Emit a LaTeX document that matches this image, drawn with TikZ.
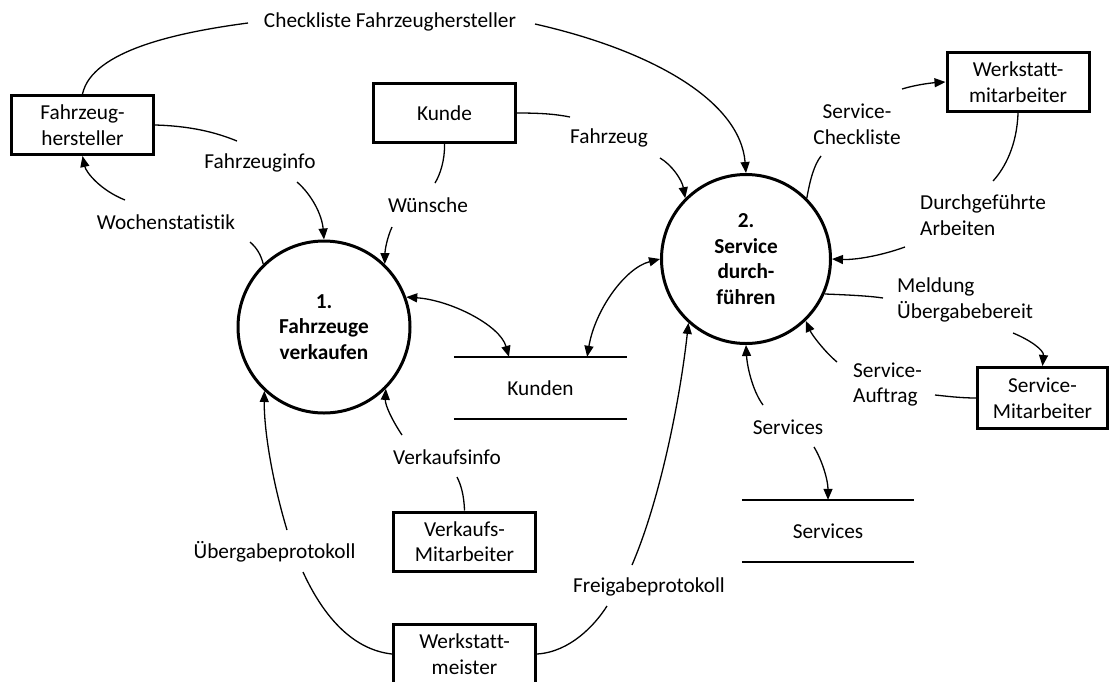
\documentclass[tikz,border=0pt]{standalone}
\usepackage{fontspec}
\setmainfont{Carlito}[Ligatures={NoCommon}]
\usetikzlibrary{arrows.meta,calc}
\begin{document}
\begin{tikzpicture}[x=1pt,y=-1pt,
  every node/.style={font=\fontsize{21.3}{25.6}\selectfont},
  ext/.style={draw, line width=3pt, minimum width=142pt, minimum height=59pt, align=center, inner sep=0pt},
  proc/.style={draw, circle, line width=3pt, align=center, inner sep=0pt, font=\fontsize{21.3}{25.6}\selectfont\bfseries},
  lbl/.style={inner sep=0pt, align=center},
  lbll/.style={inner sep=0pt, align=left},
  storeline/.style={line width=1.6pt},
  flow/.style={line width=1.3pt},
  arr/.style={flow, -{Triangle[length=11pt,width=9pt]}},
  darr/.style={flow, {Triangle[length=11pt,width=9pt]}-{Triangle[length=11pt,width=9pt]}},
]
\useasboundingbox (0,0) rectangle (1111,681);

% external entities
\node[ext] (fh) at (82.5,125) {Fahrzeug-\\hersteller};
\node[ext] (kunde) at (444.5,113) {Kunde};
\node[ext] (wm) at (1018,82) {Werkstatt-\\mitarbeiter};
\node[ext, minimum width=130pt, minimum height=61pt] (sm) at (1042.5,398) {Service-\\Mitarbeiter};
\node[ext] (vm) at (464.5,541.5) {Verkaufs-\\Mitarbeiter};
\node[ext] (wmeister) at (464.5,654) {Werkstatt-\\meister};

% processes
\node[proc, minimum size=172pt] (c1) at (324,327) {1.\\Fahrzeuge\\verkaufen};
\node[proc, minimum size=169pt] (c2) at (746,259) {2.\\Service\\durch-\\führen};

% data stores
\node[lbl, minimum width=173pt, minimum height=62pt] (ks) at (540.5,388) {Kunden};
\draw[storeline] (ks.north west) -- (ks.north east) (ks.south west) -- (ks.south east);
\node[lbl, minimum width=172pt, minimum height=62pt] (ss) at (828,531) {Services};
\draw[storeline] (ss.north west) -- (ss.north east) (ss.south west) -- (ss.south east);

% labels
\node[lbl] (lCheck) at (390,22) {Checkliste Fahrzeughersteller};
\node[lbl] (lFinfo) at (260,163) {Fahrzeuginfo};
\node[lbl] (lWoch) at (166,222) {Wochenstatistik};
\node[lbl] (lFzg) at (609,138) {Fahrzeug};
\node[lbl] (lWue) at (428,205) {Wünsche};
\node[lbl] (lSC) at (857,124.5) {Service-\\Checkliste};
\node[lbll, anchor=west] (lDA) at (920,215) {Durchgeführte\\Arbeiten};
\node[lbll, anchor=west] (lMU) at (897,300) {Meldung\\Übergabebereit};
\node[lbll, anchor=west] (lSA) at (853,384.5) {Service-\\Auftrag};
\node[lbl] (lServ) at (788,427) {Services};
\node[lbl] (lVI) at (447,457) {Verkaufsinfo};
\node[lbl] (lUP) at (274.5,552) {Übergabeprotokoll};
\node[lbl] (lFP) at (649,587) {Freigabeprotokoll};

% free ends near labels
\coordinate (chkA) at (248,23);
\coordinate (chkB) at (535,24);
\coordinate (finA) at (237,141);
\coordinate (finB) at (297,182);
\coordinate (wocA) at (125,200);
\coordinate (wocB) at (250,242);
\coordinate (fzgA) at (570,117);
\coordinate (fzgB) at (660,158);
\coordinate (wueA) at (435,183);
\coordinate (wueB) at (392,227);
\coordinate (daA) at (993,181);
\coordinate (daB) at (905,247);
\coordinate (scA) at (821,156);
\coordinate (scB) at (902,89);
\coordinate (muA) at (883,298);
\coordinate (muB) at (1013,333);
\coordinate (saA) at (935,395);
\coordinate (saB) at (837,362);
\coordinate (svA) at (763,405);
\coordinate (svB) at (814,447);
\coordinate (viA) at (457,477);
\coordinate (viB) at (402,435);
\coordinate (upA) at (287,530);
\coordinate (upB) at (303,572);
\coordinate (fpA) at (632,565);
\coordinate (fpB) at (607,606);

% connectors
\draw[flow] (fh.north) .. controls (92,50) and (180,32) .. (chkA);
\draw[arr] (chkB) .. controls (650,50) and (740,100) .. (c2.north);

\draw[flow] (fh.east) .. controls (190,126) and (215,132) .. (finA);
\draw[arr] (finB) .. controls (312,195) and (322,215) .. (c1.north);

\draw[arr] (wocA) .. controls (100,190) and (86,172) .. (fh.south);
\draw[flow] (wocB) .. controls (257,248) and (261,255) .. (c1.134);

\draw[flow] (kunde.east) .. controls (540,113) and (555,114) .. (fzgA);
\draw[arr] (fzgB) .. controls (672,165) and (682,180) .. (c2.135);

\draw[flow] (kunde.south) .. controls (445,160) and (440,175) .. (wueA);
\draw[arr] (wueB) .. controls (387,238) and (385,250) .. (c1.46);

\draw[darr] (c1.20) .. controls (450,300) and (500,325) .. ($(ks.north west)!0.318!(ks.north east)$);
\draw[darr] ($(ks.north west)!0.769!(ks.north east)$) .. controls (595,310) and (625,268) .. (c2.180);

\draw[flow] (wm.south) .. controls (1017,145) and (1005,168) .. (daA);
\draw[arr] (daB) .. controls (880,256) and (855,260) .. (c2.0);

\draw[flow] (c2.45) .. controls (810,180) and (814,165) .. (scA);
\draw[arr] (scB) .. controls (915,85) and (930,83) .. (wm.west);

\draw[flow] (c2.-24) .. controls (850,295) and (870,296) .. (muA);
\draw[arr] (muB) .. controls (1030,340) and (1044,350) .. (sm.north);

\draw[flow] (sm.west) .. controls (960,398) and (945,396) .. (saA);
\draw[arr] (saB) .. controls (825,352) and (812,335) .. (c2.-46);

\draw[arr] (svA) .. controls (752,390) and (747,365) .. (c2.south);
\draw[arr] (svB) .. controls (822,460) and (828,480) .. (ss.north);

\draw[flow] (vm.north) .. controls (464,495) and (461,485) .. (viA);
\draw[arr] (viB) .. controls (392,420) and (385,405) .. (c1.-45);

\draw[arr] (upA) .. controls (272,480) and (264,430) .. (c1.227);
\draw[flow] (upB) .. controls (325,620) and (355,650) .. (wmeister.west);

\draw[arr] (fpA) .. controls (660,500) and (680,400) .. (c2.228);
\draw[flow] (wmeister.east) .. controls (570,652) and (595,625) .. (fpB);
\end{tikzpicture}
\end{document}
